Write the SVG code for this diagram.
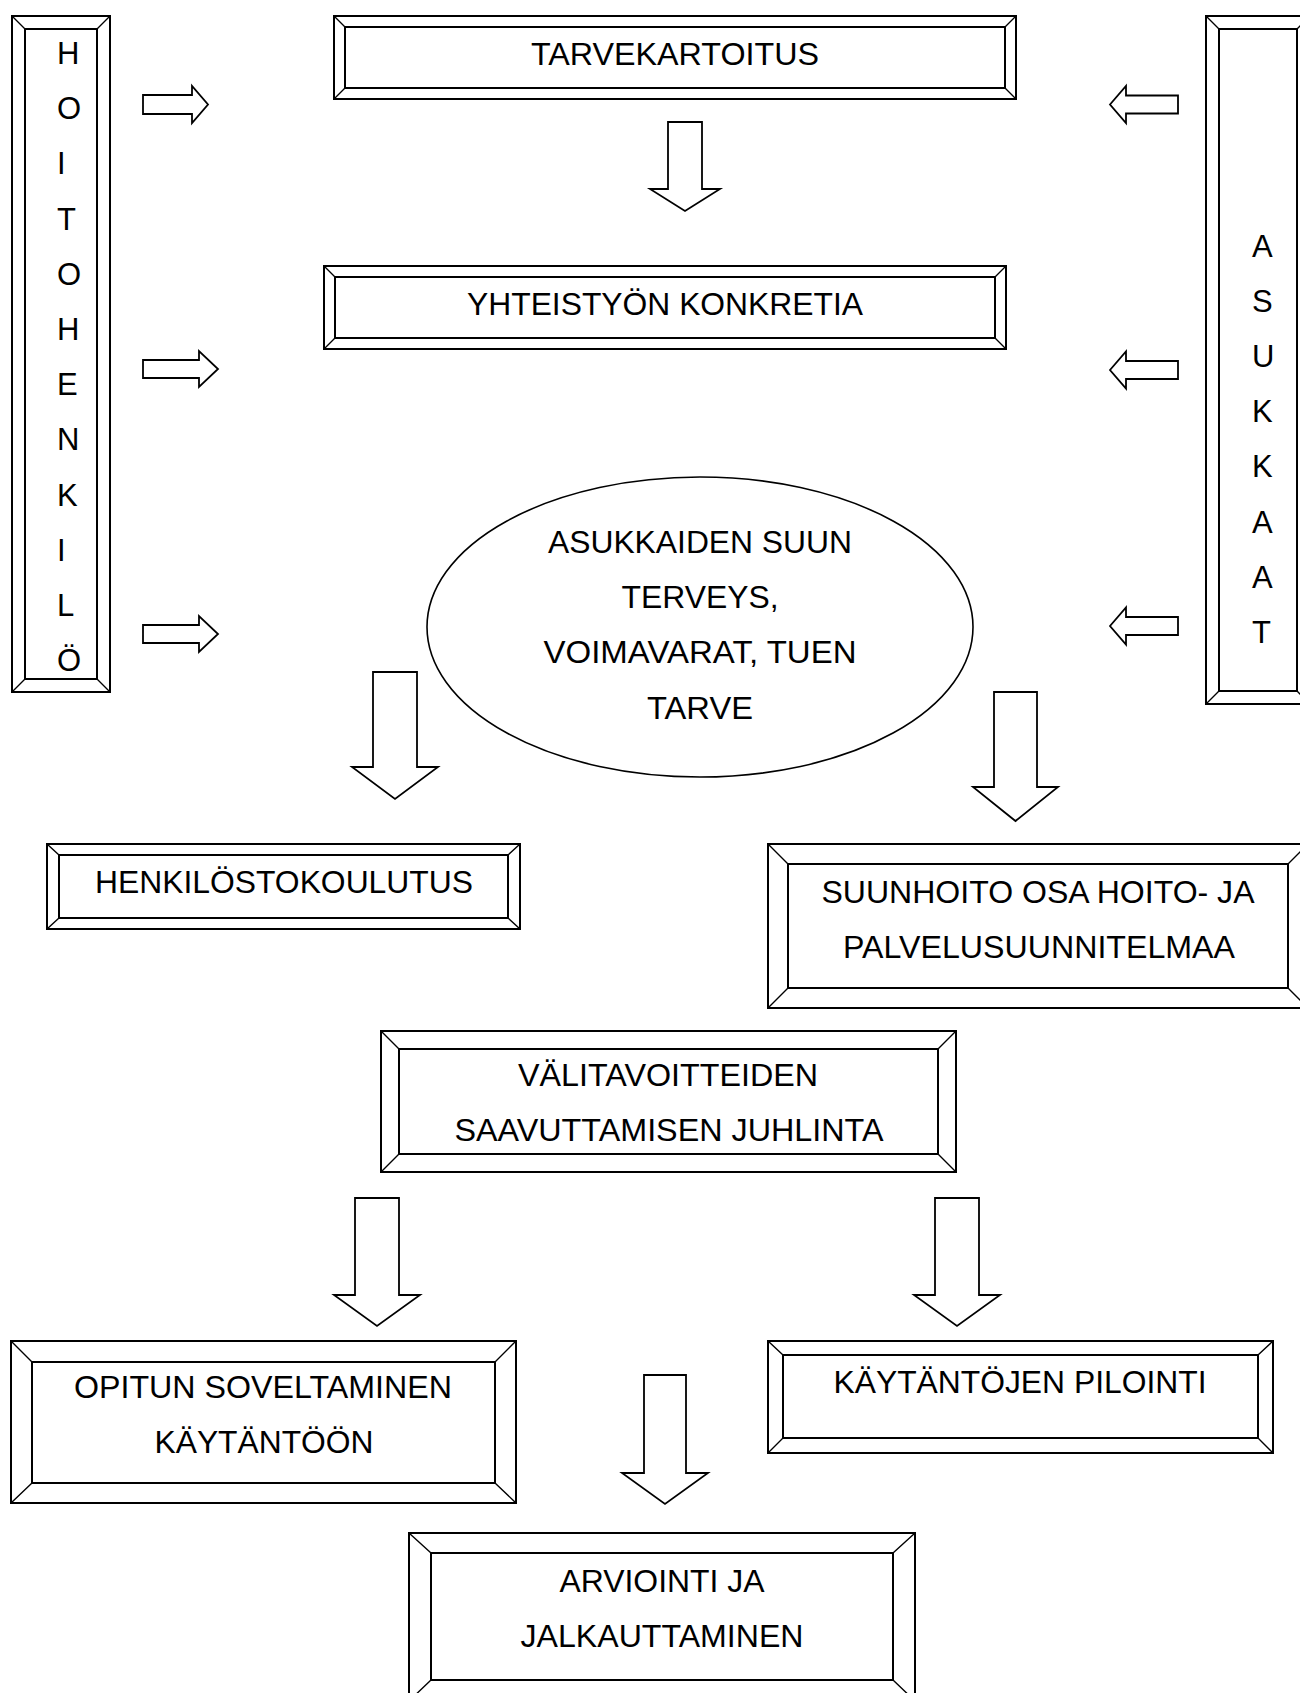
<svg xmlns="http://www.w3.org/2000/svg" width="1300" height="1693" viewBox="0 0 1300 1693">
<style>
.bg{fill:#fff}
.o{fill:#fff;stroke:#000;stroke-width:2}
.i{fill:none;stroke:#000;stroke-width:2}
.d{fill:none;stroke:#000;stroke-width:1.4}
.e{fill:#fff;stroke:#000;stroke-width:1.6}
.arr{fill:#fff;stroke:#000;stroke-width:1.8;stroke-linejoin:miter}
text{font-family:"Liberation Sans",Arial,sans-serif;font-size:31px;fill:#000}
.c{text-anchor:middle}
</style>
<rect class="bg" x="0" y="0" width="1300" height="1693"/>

<g id="hoitohenkilo">
<rect class="o" x="12" y="16" width="98" height="676"/>
<rect class="i" x="25" y="29" width="72" height="650"/>
<path class="d" d="M12 16L25 29M110 16L97 29M12 692L25 679M110 692L97 679"/>
<text x="57" y="64">H</text>
<text x="57" y="119.2">O</text>
<text x="57" y="174.4">I</text>
<text x="57" y="229.6">T</text>
<text x="57" y="284.8">O</text>
<text x="57" y="340">H</text>
<text x="57" y="395.2">E</text>
<text x="57" y="450.4">N</text>
<text x="57" y="505.6">K</text>
<text x="57" y="560.8">I</text>
<text x="57" y="616">L</text>
<text x="57" y="671.2">Ö</text>
</g>

<g id="asukkaat">
<rect class="o" x="1206" y="16" width="104" height="688"/>
<rect class="i" x="1219" y="29" width="78" height="662"/>
<path class="d" d="M1206 16L1219 29M1310 16L1297 29M1206 704L1219 691M1310 704L1297 691"/>
<text x="1252" y="257">A</text>
<text x="1252" y="312.1">S</text>
<text x="1252" y="367.2">U</text>
<text x="1252" y="422.3">K</text>
<text x="1252" y="477.4">K</text>
<text x="1252" y="532.5">A</text>
<text x="1252" y="587.6">A</text>
<text x="1252" y="642.7">T</text>
</g>

<g id="tarvekartoitus">
<rect class="o" x="334" y="16" width="682" height="83"/>
<rect class="i" x="345" y="27" width="660" height="61"/>
<path class="d" d="M334 16L345 27M1016 16L1005 27M334 99L345 88M1016 99L1005 88"/>
<text class="c" x="675" y="65" textLength="288" lengthAdjust="spacingAndGlyphs">TARVEKARTOITUS</text>
</g>

<g id="yhteistyon-konkretia">
<rect class="o" x="324" y="266" width="682" height="83"/>
<rect class="i" x="335" y="277" width="660" height="61"/>
<path class="d" d="M324 266L335 277M1006 266L995 277M324 349L335 338M1006 349L995 338"/>
<text class="c" x="665" y="315" textLength="396" lengthAdjust="spacingAndGlyphs">YHTEISTYÖN KONKRETIA</text>
</g>

<g id="asukkaiden-suun-terveys">
<ellipse class="e" cx="700" cy="627" rx="273" ry="150"/>
<text class="c" x="700" y="553" textLength="304" lengthAdjust="spacingAndGlyphs">ASUKKAIDEN SUUN</text>
<text class="c" x="700" y="608" textLength="157" lengthAdjust="spacingAndGlyphs">TERVEYS,</text>
<text class="c" x="700" y="663" textLength="313" lengthAdjust="spacingAndGlyphs">VOIMAVARAT, TUEN</text>
<text class="c" x="700" y="719" textLength="106" lengthAdjust="spacingAndGlyphs">TARVE</text>
</g>

<g id="henkilostokoulutus">
<rect class="o" x="47" y="844" width="473" height="85"/>
<rect class="i" x="59" y="855" width="449" height="63"/>
<path class="d" d="M47 844L59 855M520 844L508 855M47 929L59 918M520 929L508 918"/>
<text class="c" x="284" y="893" textLength="378" lengthAdjust="spacingAndGlyphs">HENKILÖSTOKOULUTUS</text>
</g>

<g id="suunhoito">
<rect class="o" x="768" y="844" width="540" height="164"/>
<rect class="i" x="788" y="864" width="500" height="124"/>
<path class="d" d="M768 844L788 864M1308 844L1288 864M768 1008L788 988M1308 1008L1288 988"/>
<text class="c" x="1038" y="903" textLength="433" lengthAdjust="spacingAndGlyphs">SUUNHOITO OSA HOITO- JA</text>
<text class="c" x="1039" y="958" textLength="392" lengthAdjust="spacingAndGlyphs">PALVELUSUUNNITELMAA</text>
</g>

<g id="valitavoitteiden">
<rect class="o" x="381" y="1031" width="575" height="141"/>
<rect class="i" x="399" y="1049" width="539" height="105"/>
<path class="d" d="M381 1031L399 1049M956 1031L938 1049M381 1172L399 1154M956 1172L938 1154"/>
<text class="c" x="668" y="1086" textLength="300" lengthAdjust="spacingAndGlyphs">VÄLITAVOITTEIDEN</text>
<text class="c" x="669" y="1141" textLength="429" lengthAdjust="spacingAndGlyphs">SAAVUTTAMISEN JUHLINTA</text>
</g>

<g id="opitun-soveltaminen">
<rect class="o" x="11" y="1341" width="505" height="162"/>
<rect class="i" x="32" y="1362" width="463" height="121"/>
<path class="d" d="M11 1341L32 1362M516 1341L495 1362M11 1503L32 1483M516 1503L495 1483"/>
<text class="c" x="263" y="1398" textLength="378" lengthAdjust="spacingAndGlyphs">OPITUN SOVELTAMINEN</text>
<text class="c" x="264" y="1453" textLength="219" lengthAdjust="spacingAndGlyphs">KÄYTÄNTÖÖN</text>
</g>

<g id="kaytantojen-pilointi">
<rect class="o" x="768" y="1341" width="505" height="112"/>
<rect class="i" x="783" y="1355" width="475" height="83"/>
<path class="d" d="M768 1341L783 1355M1273 1341L1258 1355M768 1453L783 1438M1273 1453L1258 1438"/>
<text class="c" x="1020" y="1393" textLength="373" lengthAdjust="spacingAndGlyphs">KÄYTÄNTÖJEN PILOINTI</text>
</g>

<g id="arviointi">
<rect class="o" x="409" y="1533" width="506" height="168"/>
<rect class="i" x="431" y="1553" width="462" height="127"/>
<path class="d" d="M409 1533L431 1553M915 1533L893 1553M409 1701L431 1680M915 1701L893 1680"/>
<text class="c" x="662" y="1592" textLength="205" lengthAdjust="spacingAndGlyphs">ARVIOINTI JA</text>
<text class="c" x="662" y="1647" textLength="283" lengthAdjust="spacingAndGlyphs">JALKAUTTAMINEN</text>
</g>

<g id="connectors">
<polygon class="arr" points="143,95 192,95 192,86 208,104.5 192,123 192,114 143,114"/>
<polygon class="arr" points="143,360 199,360 199,351 218,369 199,387 199,378 143,378"/>
<polygon class="arr" points="143,625 199,625 199,616 218,634 199,652 199,643 143,643"/>
<polygon class="arr" points="1110,104.5 1126,86 1126,95.5 1178,95.5 1178,113.5 1126,113.5 1126,123"/>
<polygon class="arr" points="1110,370 1126,351.5 1126,361 1178,361 1178,379 1126,379 1126,388.5"/>
<polygon class="arr" points="1110,626 1126,607.5 1126,617 1178,617 1178,635 1126,635 1126,644.5"/>
<polygon class="arr" points="668,122 702,122 702,189 720,189 685,211 650,189 668,189"/>
<polygon class="arr" points="373,672 417,672 417,767 438,767 395,799 352,767 373,767"/>
<polygon class="arr" points="994,692 1037,692 1037,787 1058,787 1015.5,821 973,787 994,787"/>
<polygon class="arr" points="355,1198 399,1198 399,1295 420,1295 377,1326 334,1295 355,1295"/>
<polygon class="arr" points="935,1198 979,1198 979,1295 1000,1295 957,1326 914,1295 935,1295"/>
<polygon class="arr" points="644,1375 686,1375 686,1473 708,1473 665,1504 622,1473 644,1473"/>
</g>
</svg>
